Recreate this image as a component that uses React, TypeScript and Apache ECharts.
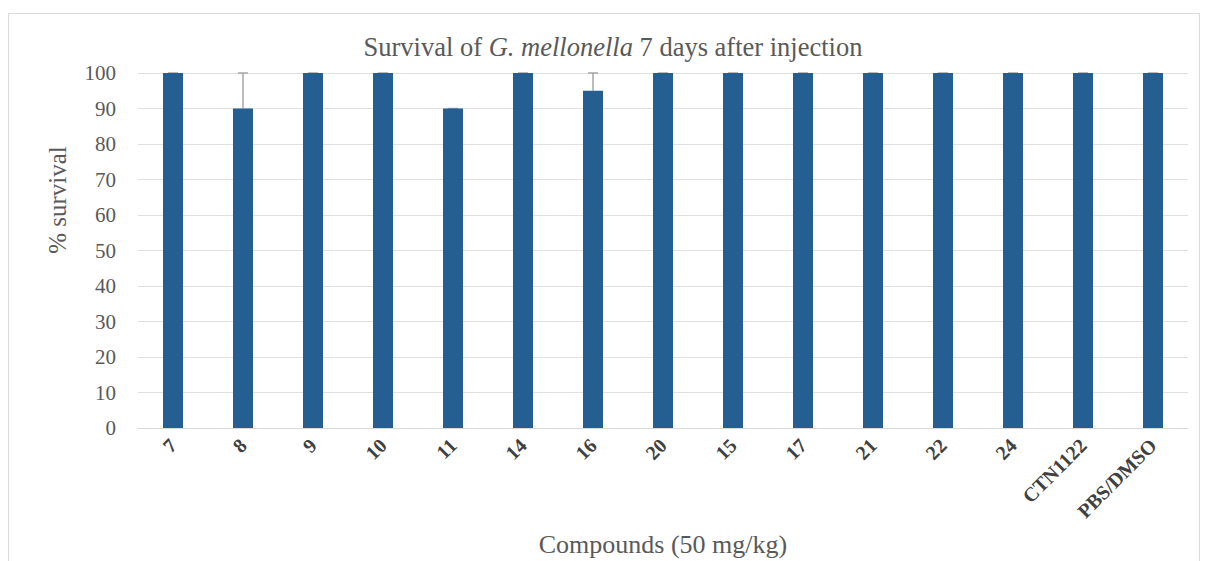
import React, { useEffect, useRef } from "react";
import * as echarts from "echarts";

const categories = ["7", "8", "9", "10", "11", "14", "16", "20", "15", "17", "21", "22", "24", "CTN1122", "PBS/DMSO"];
const survival = [100, 90, 100, 100, 90, 100, 95, 100, 100, 100, 100, 100, 100, 100, 100];
const errorsUp = [0, 10, 0, 0, 0, 0, 5, 0, 0, 0, 0, 0, 0, 0, 0];
const yTicks = [0, 10, 20, 30, 40, 50, 60, 70, 80, 90, 100];

const SERIF = "Times New Roman, Liberation Serif, serif";

export default function App() {
  const ref = useRef<HTMLDivElement>(null);
  useEffect(() => {
    if (!ref.current) return;
    const chart = echarts.init(ref.current, undefined, { renderer: "svg" });
    const errData = survival.map((v, i) => [i, v, v + errorsUp[i]]);
    chart.setOption({
      animation: false,
      backgroundColor: "#ffffff",
      textStyle: { fontFamily: SERIF },
      grid: { left: 138, right: 20, top: 73, bottom: 133, containLabel: false },
      xAxis: {
        type: "category",
        data: categories,
        axisLine: { show: true, lineStyle: { color: "#d9d9d9" } },
        axisTick: { show: false },
        axisLabel: {
          rotate: 45,
          interval: 0,
          margin: 14,
          fontFamily: SERIF,
          fontSize: 20,
          fontWeight: "bold",
          color: "#404040",
        },
      },
      yAxis: {
        type: "value",
        min: yTicks[0],
        max: yTicks[yTicks.length - 1],
        interval: 10,
        axisLine: { show: false },
        axisTick: { show: false },
        splitLine: { lineStyle: { color: "#e0e0e0" } },
        axisLabel: { margin: 22, fontFamily: SERIF, fontSize: 21, color: "#595959" },
      },
      graphic: [
        {
          type: "rect",
          silent: true,
          shape: { x: 8.5, y: 13.5, width: 1191, height: 560 },
          style: { fill: "none", stroke: "#d9d9d9", lineWidth: 1 },
          z: -10,
        },
        {
          type: "text",
          x: 613,
          y: 47,
          style: {
            text: "{n|Survival of }{i|G. mellonella}{n| 7 days after injection}",
            align: "center",
            verticalAlign: "middle",
            rich: {
              n: { fontFamily: SERIF, fontSize: 26.5, fill: "#595959", color: "#595959" },
              i: { fontFamily: SERIF, fontSize: 26.5, fill: "#595959", color: "#595959", fontStyle: "italic" },
            },
          },
        },
        {
          type: "text",
          x: 57,
          y: 200,
          rotation: Math.PI / 2,
          style: {
            text: "% survival",
            fontFamily: SERIF,
            fontSize: 25,
            fill: "#595959",
            align: "center",
            verticalAlign: "middle",
          },
        },
        {
          type: "text",
          x: 663,
          y: 544,
          style: {
            text: "Compounds (50 mg/kg)",
            fontFamily: SERIF,
            fontSize: 26,
            fill: "#595959",
            align: "center",
            verticalAlign: "middle",
          },
        },
      ],
      series: [
        {
          type: "custom",
          z: 1,
          data: errData,
          renderItem: (params: any, api: any) => {
            const i = api.value(0);
            const lo = api.coord([i, api.value(1)]);
            const hi = api.coord([i, api.value(2)]);
            const half = 5;
            return {
              type: "group",
              children: [
                { type: "line", shape: { x1: lo[0], y1: lo[1], x2: hi[0], y2: hi[1] }, style: { stroke: "#a6a6a6", lineWidth: 1.5 } },
                { type: "line", shape: { x1: hi[0] - half, y1: hi[1], x2: hi[0] + half, y2: hi[1] }, style: { stroke: "#a6a6a6", lineWidth: 1.5 } },
              ],
            };
          },
        },
        {
          type: "bar",
          z: 2,
          data: survival,
          barWidth: 20,
          itemStyle: { color: "#255e91" },
        },
      ],
    });
    return () => chart.dispose();
  }, []);
  return (
    <div
      ref={ref}
      style={{ position: "fixed", left: 0, top: 0, width: 1208, height: 561 }}
    />
  );
}
